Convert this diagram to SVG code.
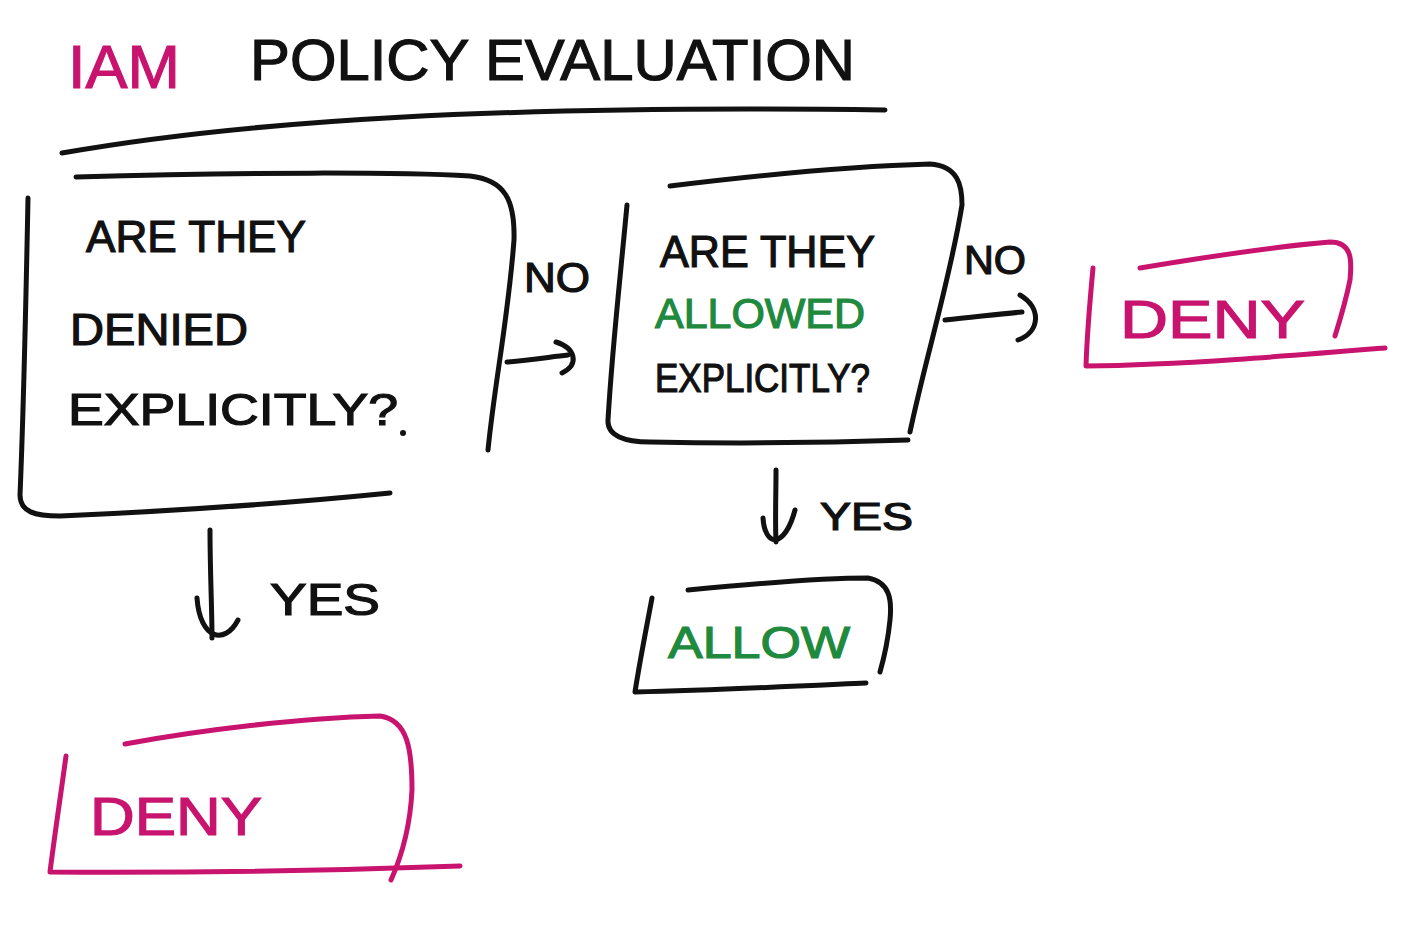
<svg xmlns="http://www.w3.org/2000/svg" width="1404" height="950" viewBox="0 0 1404 950">
<style>
.s{fill:none;stroke-width:5;stroke-linecap:round;stroke-linejoin:round}
.k{stroke:#111}
.m{stroke:#c8146e}
.t{font-family:"Liberation Sans","DejaVu Sans",sans-serif;fill:#111;stroke:#111;stroke-width:1.2}
.tm{fill:#c8146e;stroke:#c8146e}
.tg{fill:#1f8a3e;stroke:#1f8a3e}
</style>
<rect width="1404" height="950" fill="#fff"/>
<g id="title">
<text class="t tm" x="68" y="88" font-size="62" textLength="112" lengthAdjust="spacingAndGlyphs">IAM</text>
<text class="t" x="250" y="80" font-size="58" textLength="605" lengthAdjust="spacingAndGlyphs">POLICY EVALUATION</text>
<path class="s k" d="M62 153 C250 120 500 105 885 110"/>
</g>
<g id="node-denied-check">
<path class="s k" d="M76 177 C250 172 400 172 470 176 C505 180 515 200 514 240 C508 320 495 380 488 450"/>
<path class="s k" d="M28 198 C26 300 24 400 20 495 C20 512 35 516 60 516 C200 510 320 500 390 493"/>
<text class="t" x="86" y="252" font-size="44" textLength="220" lengthAdjust="spacingAndGlyphs">ARE THEY</text>
<text class="t" x="70" y="345" font-size="44" textLength="178" lengthAdjust="spacingAndGlyphs">DENIED</text>
<text class="t" x="68" y="425" font-size="44" textLength="330" lengthAdjust="spacingAndGlyphs">EXPLICITLY?</text>
<circle cx="403" cy="433" r="3" fill="#111"/>
</g>
<g id="node-allowed-check">
<path class="s k" d="M670 186 C760 175 860 166 930 164 C958 166 962 185 962 205 C950 280 925 360 910 432"/>
<path class="s k" d="M627 205 C620 280 612 350 608 420 C607 436 625 442 650 442 C750 444 850 442 908 440"/>
<text class="t" x="660" y="267" font-size="44" textLength="215" lengthAdjust="spacingAndGlyphs">ARE THEY</text>
<text class="t tg" x="655" y="328" font-size="42" textLength="210" lengthAdjust="spacingAndGlyphs">ALLOWED</text>
<text class="t" x="655" y="392" font-size="40" textLength="215" lengthAdjust="spacingAndGlyphs">EXPLICITLY?</text>
</g>
<g id="node-deny-right">
<path class="s m" d="M1093 268 C1090 300 1087 335 1086 366 C1180 365 1300 355 1385 348"/>
<path class="s m" d="M1140 268 C1200 258 1280 246 1330 242 C1352 242 1352 260 1350 280 C1346 300 1340 320 1335 336"/>
<text class="t tm" x="1120" y="338" font-size="54" textLength="185" lengthAdjust="spacingAndGlyphs">DENY</text>
</g>
<g id="node-allow">
<path class="s k" d="M652 598 C646 630 640 660 635 692 C720 690 800 686 866 683"/>
<path class="s k" d="M688 590 C750 584 820 578 868 578 C890 582 892 600 890 620 C888 640 884 658 880 672"/>
<text class="t tg" x="668" y="658" font-size="44" textLength="182" lengthAdjust="spacingAndGlyphs">ALLOW</text>
</g>
<g id="node-deny-bottom">
<path class="s m" d="M66 756 C60 800 54 840 50 872 C200 873 350 870 460 866"/>
<path class="s m" d="M125 744 C200 730 300 718 380 716 C408 720 412 750 412 790 C410 830 400 860 391 880"/>
<text class="t tm" x="90" y="835" font-size="54" textLength="172" lengthAdjust="spacingAndGlyphs">DENY</text>
</g>
<g id="connectors">
<path class="s k" d="M507 362 C530 360 550 357 568 355"/>
<path class="s k" d="M556 342 C575 348 580 364 562 373"/>
<text class="t" x="524" y="292" font-size="42" textLength="66" lengthAdjust="spacingAndGlyphs">NO</text>
<path class="s k" d="M945 320 C975 317 1000 314 1022 312"/>
<path class="s k" d="M1020 295 C1042 308 1040 332 1018 340"/>
<text class="t" x="964" y="274" font-size="40" textLength="62" lengthAdjust="spacingAndGlyphs">NO</text>
<path class="s k" d="M776 470 C776 495 775 520 776 542"/>
<path class="s k" d="M763 518 C765 548 785 548 795 510"/>
<text class="t" x="820" y="530" font-size="38" textLength="93" lengthAdjust="spacingAndGlyphs">YES</text>
<path class="s k" d="M210 530 C210 570 212 610 212 638"/>
<path class="s k" d="M197 598 C200 640 225 645 238 620"/>
<text class="t" x="270" y="615" font-size="44" textLength="110" lengthAdjust="spacingAndGlyphs">YES</text>
</g>
</svg>
